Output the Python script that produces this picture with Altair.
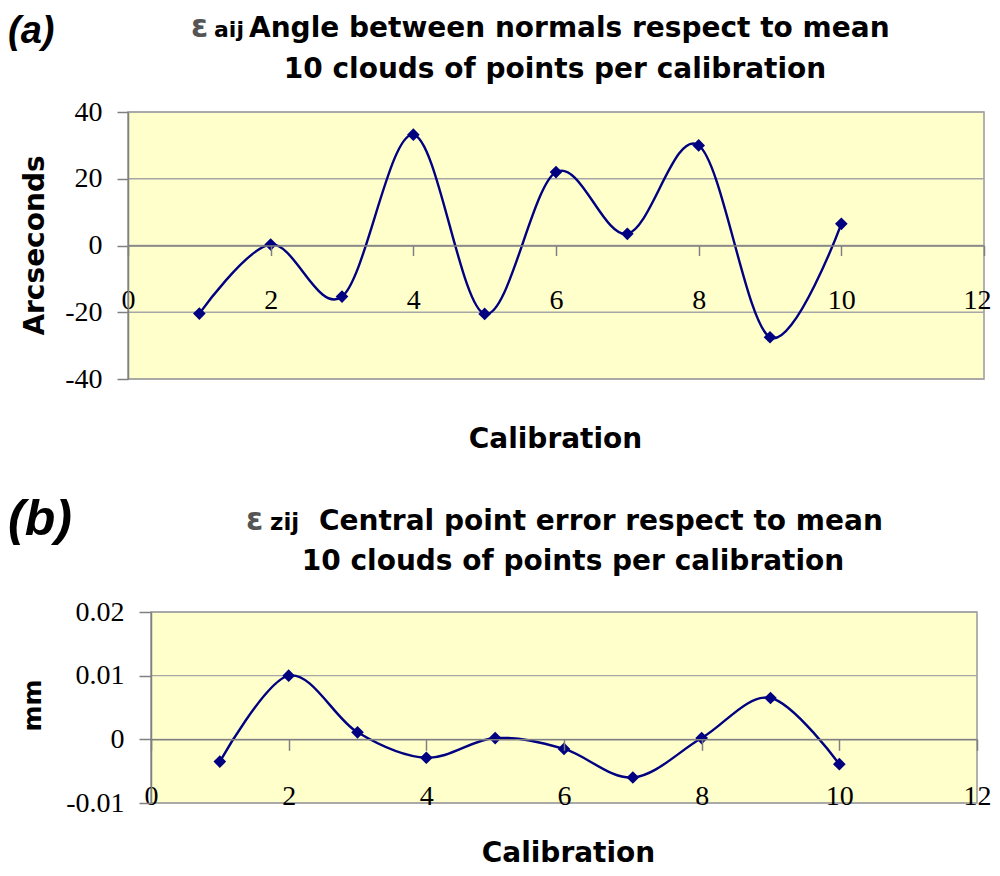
import altair as alt
import pandas as pd

# ---------------- data ----------------
calibration = [1, 2, 3, 4, 5, 6, 7, 8, 9, 10]
angle_arcsec = [-20.4, 0.3, -15.3, 33.2, -20.5, 22.0, 3.5, 30.0, -27.5, 6.5]
central_mm = [-0.0035, 0.0100, 0.0011, -0.0029, 0.0002, -0.0015, -0.0060, 0.0002, 0.0065, -0.0039]

x_ticks = [0, 2, 4, 6, 8, 10, 12]
x_limits = [0, 12]
a_y_ticks = [-40, -20, 0, 20, 40]
a_y_limits = [-40, 40]
b_y_ticks = [-0.01, 0, 0.01, 0.02]
b_y_limits = [-0.01, 0.02]

panel_tags = ["(a)", "(b)"]
title_a = ["ε", "aij", "Angle between normals respect to mean", "10 clouds of points per calibration"]
title_b = ["ε", "zij", "Central point error respect to mean", "10 clouds of points per calibration"]
x_title = "Calibration"
y_title_a = "Arcseconds"
y_title_b = "mm"

# ---------------- style ----------------
BG = "#FFFFCC"
BORDER = "#999999"
GRID = "#A6A6A6"
AXIS = "#808080"
NAVY = "#000080"
TITLE_FONT = "DejaVu Sans"
TICK_FONT = "Liberation Serif"

W, H = 856, 691


def panel(values, y_ticks, y_limits, xr, yr, x_off, y_off, x_tick, y_tick,
          x_pad, xt_x, xt_y, y_title, yt_x, yt_y, yt_size, x_label_offset):
    def xs():
        return alt.Scale(domain=x_limits, range=xr, nice=False, zero=False)

    def ys():
        return alt.Scale(domain=y_limits, range=yr, nice=False, zero=False)

    df = pd.DataFrame({"Calibration": calibration, "v": values})
    bg_df = pd.DataFrame({"x0": [x_limits[0]], "x1": [x_limits[1]],
                          "y0": [y_limits[0]], "y1": [y_limits[1]]})
    grid_df = pd.DataFrame({"g": y_ticks, "x0": x_limits[0], "x1": x_limits[1]})

    x_axis = alt.Axis(values=x_ticks, orient="bottom", offset=x_off, grid=False, zindex=1,
                      domainColor=AXIS, domainWidth=1.5, tickColor=AXIS, tickWidth=1.5,
                      tickSize=x_tick, labelFont=TICK_FONT, labelFontSize=28,
                      labelColor="black", labelPadding=x_pad, labelFlush=False,
                      labelOverlap=False, labelExpr="'' + datum.value",
                      labelOffset=x_label_offset,
                      title=x_title, titleFont=TITLE_FONT, titleFontSize=28,
                      titleFontWeight="bold", titleColor="black", titleX=xt_x, titleY=xt_y,
                      titleAlign="center", titleBaseline="alphabetic")
    y_axis = alt.Axis(values=y_ticks, orient="left", offset=y_off, grid=False, zindex=1,
                      domainColor=AXIS, domainWidth=1.5, tickColor=AXIS, tickWidth=1.5,
                      tickSize=y_tick, labelFont=TICK_FONT, labelFontSize=28,
                      labelColor="black", labelPadding=15, labelFlush=False,
                      labelOverlap=False, labelExpr="'' + datum.value",
                      title=y_title, titleFont=TITLE_FONT, titleFontSize=yt_size,
                      titleFontWeight="bold", titleColor="black", titleX=yt_x, titleY=yt_y,
                      titleAngle=270, titleAlign="center", titleBaseline="alphabetic")

    bg = alt.Chart(bg_df).mark_rect(fill=BG, stroke=BORDER, strokeWidth=1.5).encode(
        x=alt.X("x0:Q", scale=xs(), axis=None), x2="x1:Q",
        y=alt.Y("y0:Q", scale=ys(), axis=None), y2="y1:Q")
    grid = alt.Chart(grid_df).mark_rule(color=GRID, strokeWidth=1.3).encode(
        x=alt.X("x0:Q", scale=xs(), axis=None), x2="x1:Q",
        y=alt.Y("g:Q", scale=ys(), axis=None))
    line = alt.Chart(df).mark_line(color=NAVY, strokeWidth=2.4, interpolate="cardinal").encode(
        x=alt.X("Calibration:Q", scale=xs(), axis=x_axis),
        y=alt.Y("v:Q", scale=ys(), axis=y_axis))
    pts = alt.Chart(df).mark_point(shape="diamond", filled=True, size=160, color=NAVY, opacity=1).encode(
        x=alt.X("Calibration:Q", scale=xs(), axis=None),
        y=alt.Y("v:Q", scale=ys(), axis=None))
    return [bg, grid, line, pts]


def text(s, x, y, size, align="left", baseline="alphabetic", color="black",
         font=TITLE_FONT, weight="bold", style="normal"):
    return alt.Chart(pd.DataFrame({"t": [s]})).mark_text(
        align=align, baseline=baseline, font=font, fontSize=size, fontWeight=weight,
        fontStyle=style, color=color).encode(x=alt.value(x), y=alt.value(y), text="t:N")


last_label_shift = {"condition": {"test": "datum.value == 12", "value": -7}, "value": 0}

layers_a = panel(angle_arcsec, a_y_ticks, a_y_limits, [0, 856], [267, 0],
                 x_off=-557.5, y_off=0, x_tick=10, y_tick=11, x_pad=31,
                 xt_x=427, xt_y=202, y_title=y_title_a, yt_x=-85, yt_y=133, yt_size=28,
                 x_label_offset=last_label_shift)
layers_b = panel(central_mm, b_y_ticks, b_y_limits, [23, 849], [691, 500],
                 x_off=-63.7, y_off=-23, x_tick=11, y_tick=12, x_pad=32,
                 xt_x=440, xt_y=122, y_title=y_title_b, yt_x=-111, yt_y=593, yt_size=25,
                 x_label_offset=0)

texts = [
    text(panel_tags[0], -120, -69, 38, font="Liberation Sans", style="italic"),
    text(title_a[0], 63, -75, 31, color="#555555"),
    text(title_a[1], 86, -75, 22),
    text(title_a[2], 121, -75, 28),
    text(title_a[3], 427, -34, 28, align="center"),
    text(panel_tags[1], -120, 423, 50, font="Liberation Sans", style="italic"),
    text(title_b[0], 118, 418, 31, color="#555555"),
    text(title_b[1], 142, 418, 23),
    text(title_b[2], 191, 418, 28),
    text(title_b[3], 445, 458, 28, align="center"),
]

chart = alt.layer(*layers_a, *layers_b, *texts).resolve_scale(
    x="independent", y="independent"
).properties(
    width=W, height=H,
    autosize=alt.AutoSizeParams(type="none"),
    padding={"left": 120, "top": 104, "right": 8, "bottom": 65},
    background="white",
).configure_view(strokeWidth=0)

chart.save("out.html", embed_options={"renderer": "svg", "actions": False})
